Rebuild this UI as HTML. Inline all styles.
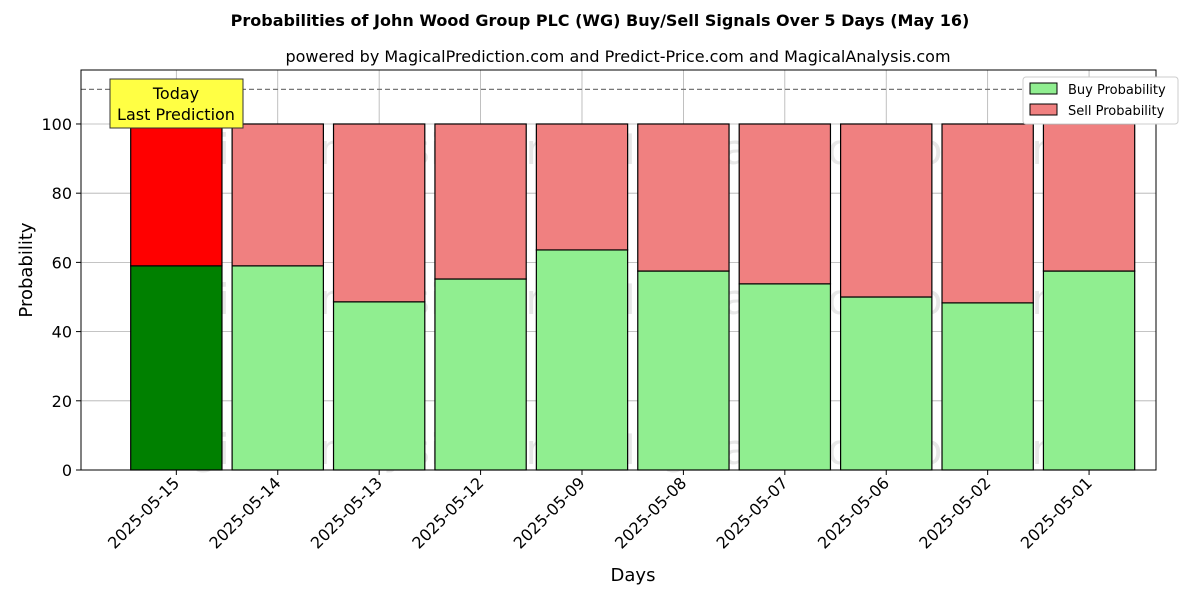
<!DOCTYPE html>
<html><head><meta charset="utf-8"><style>
body{margin:0;background:#fff;font-family:"DejaVu Sans","Liberation Sans",sans-serif}
</style></head><body>
<svg id="chart" width="1200" height="600" xmlns="http://www.w3.org/2000/svg" font-family="DejaVu Sans, Liberation Sans, sans-serif"></svg>
<script>
const categories=["2025-05-15","2025-05-14","2025-05-13","2025-05-12","2025-05-09","2025-05-08","2025-05-07","2025-05-06","2025-05-02","2025-05-01"];
const buyValues=[59.0,59.0,48.6,55.2,63.6,57.5,53.8,50.0,48.3,57.5];
const yTicks=[0,20,40,60,80,100];
const svg=document.getElementById('chart');
const NS='http://www.w3.org/2000/svg';
const L=81,R=1156,T=70,B=470;
const xMin=-0.94,xMax=9.66,yMax=115.6;
const xs=i=>L+(i-xMin)/(xMax-xMin)*(R-L);
const ys=v=>B-v/yMax*(B-T);
const bw=0.9*(R-L)/(xMax-xMin);
function el(tag,attrs,text,name,inter){const e=document.createElementNS(NS,tag);for(const k in attrs)e.setAttribute(k,attrs[k]);if(text!==undefined)e.textContent=text;


svg.appendChild(e);return e;}
el('text',{x:600,y:26,'text-anchor':'middle','font-size':16,'font-weight':'bold'},'Probabilities of John Wood Group PLC (WG) Buy/Sell Signals Over 5 Days (May 16)','chart-title');
el('text',{x:618,y:62,'text-anchor':'middle','font-size':16},'powered by MagicalPrediction.com and Predict-Price.com and MagicalAnalysis.com','chart-subtitle');
// grid
yTicks.forEach(v=>{el('line',{x1:L,x2:R,y1:ys(v),y2:ys(v),stroke:'#b0b0b0','stroke-width':0.8},undefined,'y-gridline');
el('line',{x1:L-5,x2:L,y1:ys(v),y2:ys(v),stroke:'#000'},undefined,'y-tick');
el('text',{x:L-9,y:ys(v)+6,'text-anchor':'end','font-size':16},String(v),'y-tick-label');});
categories.forEach((c,i)=>{el('line',{x1:xs(i),x2:xs(i),y1:T,y2:B,stroke:'#b0b0b0','stroke-width':0.8},undefined,'x-gridline');});
// watermarks
[[150,'MagicalAnalysis.com',348],[150,'MagicalPrediction.com',836],[300,'MagicalAnalysis.com',348],[300,'MagicalPrediction.com',836],[450,'MagicalAnalysis.com',348],[450,'MagicalPrediction.com',836]].forEach(w=>{
el('text',{x:w[2],y:w[0]+14,'text-anchor':'middle','font-size':42,fill:'rgba(120,120,120,0.18)'},w[1],'watermark');});
// bars
categories.forEach((c,i)=>{const b=buyValues[i];const x=xs(i)-bw/2;
el('rect',{x:x,y:ys(b),width:bw,height:ys(0)-ys(b),fill:i==0?'#008000':'#90ee90',stroke:'#000','stroke-width':1.2},undefined,'buy-bar-'+c,true);
el('rect',{x:x,y:ys(100),width:bw,height:ys(b)-ys(100),fill:i==0?'#ff0000':'#f08080',stroke:'#000','stroke-width':1.2},undefined,'sell-bar-'+c,true);
el('line',{x1:xs(i),x2:xs(i),y1:B,y2:B+5,stroke:'#000'},undefined,'x-tick');
const t=el('text',{x:xs(i)+4,y:B+14,'text-anchor':'end','font-size':16,transform:`rotate(-45 ${xs(i)+4} ${B+14})`},c,'x-tick-label');});
el('line',{x1:L,x2:R,y1:ys(110),y2:ys(110),stroke:'#777','stroke-dasharray':'5,3','stroke-width':1.2},undefined,'reference-line-110');
el('rect',{x:L,y:T,width:R-L,height:B-T,fill:'none',stroke:'#000','stroke-width':1},undefined,'plot-frame');
// annotation
el('rect',{x:110,y:79,width:133,height:49,fill:'#ffff44',stroke:'#333','stroke-width':1},undefined,'today-annotation-box');
el('text',{x:176,y:99,'text-anchor':'middle','font-size':16},'Today','annotation-today');
el('text',{x:176,y:120,'text-anchor':'middle','font-size':16},'Last Prediction','annotation-last-prediction');
// legend
el('rect',{x:1023,y:77,width:155,height:47,fill:'#fff',stroke:'#ccc','stroke-width':1,rx:3},undefined,'legend-box');
el('rect',{x:1030,y:83,width:27,height:11,fill:'#90ee90',stroke:'#000'},undefined,'legend-buy-swatch');
el('text',{x:1068,y:94,'font-size':13},'Buy Probability','legend-buy-label');
el('rect',{x:1030,y:104,width:27,height:11,fill:'#f08080',stroke:'#000'},undefined,'legend-sell-swatch');
el('text',{x:1068,y:115,'font-size':13},'Sell Probability','legend-sell-label');
el('text',{x:633,y:581,'text-anchor':'middle','font-size':18},'Days','x-axis-title');
el('text',{x:32,y:270,'text-anchor':'middle','font-size':18,transform:'rotate(-90 32 270)'},'Probability','y-axis-title');
</script>
</body></html>
